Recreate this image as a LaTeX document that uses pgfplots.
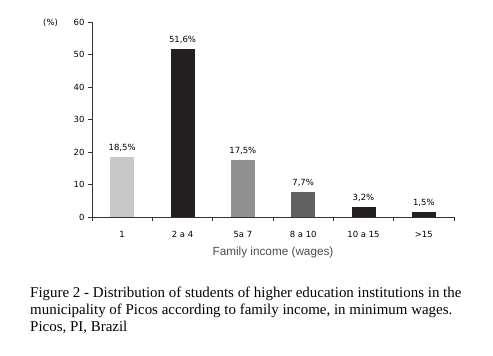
\documentclass[border=0pt]{standalone}
\usepackage{pgfplots}
\pgfplotsset{compat=1.18}
\usepackage{fontspec}
\setmainfont{Liberation Serif}
\newfontfamily\chartfont{DejaVu Sans}
\newfontfamily\labelfont{Liberation Sans}
\definecolor{cA}{HTML}{C8C8C8}
\definecolor{cB}{HTML}{231F20}
\definecolor{cC}{HTML}{909090}
\definecolor{cD}{HTML}{606060}
\definecolor{axc}{HTML}{333333}
\begin{document}
\begin{tikzpicture}
\path[use as bounding box] (0,0) rectangle (493bp,356bp);
\begin{axis}[
  at={(92bp,139bp)}, anchor=south west,
  scale only axis, width=362bp, height=195bp,
  xmin=-0.5, xmax=5.5, ymin=0, ymax=60,
  axis x line*=bottom, axis y line*=left,
  axis line style={draw=axc, line width=0.8pt},
  /pgf/number format/assume math mode=true,
  ytick={0,10,...,60},
  xtick={0,...,5},
  xticklabels={1,2 a 4,5a 7,8 a 10,10 a 15,>15},
  minor xtick={-0.5,0.5,...,5.5},
  tick align=outside,
  major x tick style={draw=none},
  minor tick length=4.5bp, major tick length=4bp,
  every tick/.style={draw=axc, line width=0.8pt},
  tick label style={font=\chartfont\fontsize{8.5}{10}\selectfont, text=black},
  xticklabel style={yshift=-7bp},
  xlabel={Family income (wages)},
  xlabel style={font=\labelfont\fontsize{11.8}{13}\selectfont, text=black!70, yshift=-2bp},
  ybar, bar width=24bp, bar shift=0pt,
  nodes near coords, point meta=explicit symbolic,
  every node near coord/.append style={font=\chartfont\fontsize{8.5}{10}\selectfont, text=black, yshift=2bp},
  clip=false,
]
\addplot[fill=cA, draw=none] coordinates {(0,18.5) [18,5\%]};
\addplot[fill=cB, draw=none] coordinates {(1,51.6) [51,6\%]};
\addplot[fill=cC, draw=none] coordinates {(2,17.5) [17,5\%]};
\addplot[fill=cD, draw=none] coordinates {(3,7.7) [7,7\%]};
\addplot[fill=cB, draw=none] coordinates {(4,3.2) [3,2\%]};
\addplot[fill=cB, draw=none] coordinates {(5,1.5) [1,5\%]};
\end{axis}
\node[anchor=base west, inner sep=0pt, font=\chartfont\fontsize{8.5}{10}\selectfont, text=black] at (43bp,330bp) {(\%)};
\node[anchor=base west, align=left, inner sep=0pt, font=\fontsize{15}{17}\selectfont] at (30bp,25bp)
{Figure 2 - Distribution of students of higher education institutions in the\\
municipality of Picos according to family income, in minimum wages.\\
Picos, PI, Brazil};
\end{tikzpicture}
\end{document}
